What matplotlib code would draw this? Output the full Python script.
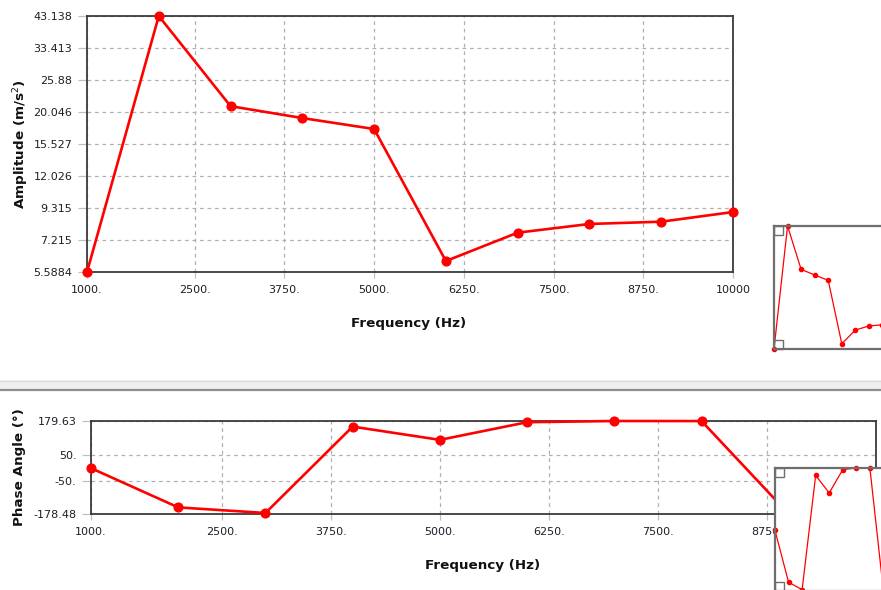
"""
Frequency response chart: amplitude (log axis) and phase angle vs frequency,
with the small overview thumbnails at the right edge.
"""

import matplotlib
matplotlib.use("Agg")
import matplotlib.pyplot as plt
from matplotlib.patches import Rectangle
from matplotlib.lines import Line2D
from matplotlib.ticker import NullLocator, NullFormatter

freq = [1000, 2000, 3000, 4000, 5000, 6000, 7000, 8000, 9000, 10000]
amplitude = [5.5884, 43.138, 21.0, 19.1, 17.5, 6.1, 7.65, 8.2, 8.35, 9.02]
phase = [-2.0, -153.0, -174.6, 158.0, 107.0, 175.0, 179.63, 179.4, -178.48, -160.0]

x_ticks = [1000, 2500, 3750, 5000, 6250, 7500, 8750, 10000]
x_labels = ["1000.", "2500.", "3750.", "5000.", "6250.", "7500.", "8750.", "10000"]
amp_ticks = [5.5884, 7.215, 9.315, 12.026, 15.527, 20.046, 25.88, 33.413, 43.138]
amp_labels = ["5.5884", "7.215", "9.315", "12.026", "15.527", "20.046",
              "25.88", "33.413", "43.138"]
phase_ticks = [-178.48, -50, 50, 179.63]
phase_labels = ["-178.48", "-50.", "50.", "179.63"]

W, H = 881, 590
RED = "#ff0000"
TXT = "#1e1e2a"
LABEL_SIZE = 9.7
plt.rcParams["font.family"] = ["DejaVu Sans"]


def box(l, t, r, b):
    """pixel box (left, top, right, bottom) -> figure fraction rect"""
    return [l / W, 1 - b / H, (r - l) / W, (b - t) / H]


def style_main(ax):
    for s in ax.spines.values():
        s.set_color("#3a3a3a")
        s.set_linewidth(1.3)
    ax.yaxis.set_minor_locator(NullLocator())
    ax.yaxis.set_minor_formatter(NullFormatter())
    ax.grid(True, color="#b0b0b0", linestyle=(0, (3, 3)), linewidth=0.9)
    ax.tick_params(axis="y", length=6.5, width=0.9, color="#c0c0c0",
                   pad=4, labelsize=8, labelcolor=TXT)
    ax.tick_params(axis="x", length=4.5, width=0.9, color="#c0c0c0",
                   pad=5, labelsize=8, labelcolor=TXT)


def style_inset(ax):
    ax.set_xticks([])
    ax.set_yticks([])
    ax.yaxis.set_minor_locator(NullLocator())
    ax.yaxis.set_minor_formatter(NullFormatter())
    for s in ax.spines.values():
        s.set_color("#6e6e6e")
        s.set_linewidth(1.6)
    for yy in (0.0, 1.0 - 9 / 123):
        ax.add_patch(Rectangle((0, yy), 9 / 122, 9 / 123, transform=ax.transAxes,
                               fill=False, edgecolor="#6e6e6e", linewidth=1.0,
                               clip_on=False, zorder=5))


fig = plt.figure(figsize=(W / 100, H / 100), dpi=100)

# top panel: amplitude
ax1 = fig.add_axes(box(87, 16, 733, 272))
ax1.plot(freq, amplitude, color=RED, linewidth=1.9, marker="o",
         markersize=6.3, clip_on=False, zorder=4)
ax1.set_yscale("log")
ax1.set_xlim(1000, 10000)
ax1.set_ylim(min(amplitude), max(amplitude))
ax1.set_xticks(x_ticks)
ax1.set_xticklabels(x_labels)
ax1.set_yticks(amp_ticks)
ax1.set_yticklabels(amp_labels)
style_main(ax1)
fig.text(409 / W, 1 - 324 / H, "Frequency (Hz)", ha="center", va="center",
         fontsize=LABEL_SIZE, fontweight="bold", color="#111111")
fig.text(21 / W, 1 - 144 / H, "Amplitude (m/s$^2$)", ha="center", va="center",
         rotation=90, fontsize=LABEL_SIZE, fontweight="bold", color="#111111")

# separator between the two panels
fig.patches.append(Rectangle((0, 1 - 389 / H), 1, 9 / H, transform=fig.transFigure,
                             facecolor="#efefef", edgecolor="none"))
fig.lines.append(Line2D([0, 1], [1 - 380.5 / H] * 2, transform=fig.transFigure,
                        color="#dcdcdc", linewidth=0.8))
fig.lines.append(Line2D([0, 1], [1 - 390 / H] * 2, transform=fig.transFigure,
                        color="#8e8e8e", linewidth=1.6))

# bottom panel: phase
ax2 = fig.add_axes(box(91, 421, 876, 514))
ax2.plot(freq, phase, color=RED, linewidth=1.9, marker="o",
         markersize=6.3, clip_on=False, zorder=4)
ax2.set_xlim(1000, 10000)
ax2.set_ylim(min(phase), max(phase))
ax2.set_xticks(x_ticks)
ax2.set_xticklabels(x_labels)
ax2.set_yticks(phase_ticks)
ax2.set_yticklabels(phase_labels)
style_main(ax2)
fig.text(483 / W, 1 - 565 / H, "Frequency (Hz)", ha="center", va="center",
         fontsize=LABEL_SIZE, fontweight="bold", color="#111111")
fig.text(20 / W, 1 - 467 / H, "Phase Angle (°)", ha="center", va="center",
         rotation=90, fontsize=LABEL_SIZE, fontweight="bold", color="#111111")

# overview thumbnails (cut by the right / bottom edge)
in1 = fig.add_axes(box(774, 226, 896, 349))
in1.plot(freq, amplitude, color=RED, linewidth=0.9, marker="o", markersize=3,
         clip_on=False)
in1.set_yscale("log")
in1.set_xlim(1000, 10000)
in1.set_ylim(min(amplitude), max(amplitude))
style_inset(in1)

in2 = fig.add_axes(box(775, 468, 897, 591))
in2.plot(freq, phase, color=RED, linewidth=0.9, marker="o", markersize=3,
         clip_on=False)
in2.set_xlim(1000, 10000)
in2.set_ylim(min(phase), max(phase))
style_inset(in2)

fig.savefig("out.png", dpi=100)
